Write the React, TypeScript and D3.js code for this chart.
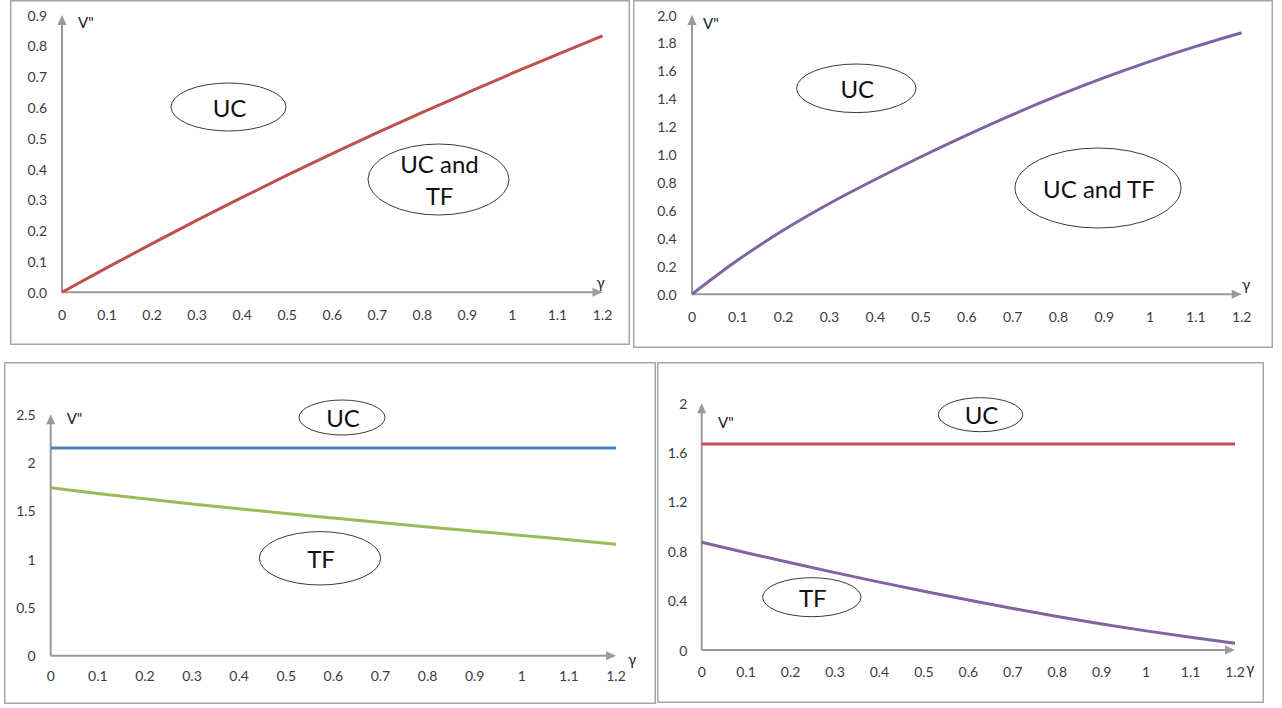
import React from 'react';
import * as d3 from 'd3';

const width = 1282;
const height = 708;

// shared x values (gamma) and their tick labels
const gamma = [0, 0.1, 0.2, 0.3, 0.4, 0.5, 0.6, 0.7, 0.8, 0.9, 1.0, 1.1, 1.2];
const gammaLabels = ['0', '0.1', '0.2', '0.3', '0.4', '0.5', '0.6', '0.7', '0.8', '0.9', '1', '1.1', '1.2'];

// top left
const topLeftTicks = [0, 0.1, 0.2, 0.3, 0.4, 0.5, 0.6, 0.7, 0.8, 0.9];
const topLeftRed = [0, 0.08, 0.158, 0.234, 0.308, 0.38, 0.45, 0.518, 0.584, 0.648, 0.711, 0.772, 0.832];

// top right
const topRightTicks = [0, 0.2, 0.4, 0.6, 0.8, 1.0, 1.2, 1.4, 1.6, 1.8, 2.0];
const topRightPurple = [0, 0.245, 0.46, 0.65, 0.822, 0.985, 1.14, 1.287, 1.424, 1.551, 1.668, 1.775, 1.873];

// bottom left
const bottomLeftTicks = [0, 0.5, 1, 1.5, 2, 2.5];
const bottomLeftBlue = [2.15, 2.15, 2.15, 2.15, 2.15, 2.15, 2.15, 2.15, 2.15, 2.15, 2.15, 2.15, 2.15];
const bottomLeftGreen = [1.74, 1.68, 1.625, 1.572, 1.521, 1.472, 1.425, 1.379, 1.334, 1.29, 1.246, 1.2, 1.155];

// bottom right
const bottomRightTicks = [0, 0.4, 0.8, 1.2, 1.6, 2];
const bottomRightRed = [1.67, 1.67, 1.67, 1.67, 1.67, 1.67, 1.67, 1.67, 1.67, 1.67, 1.67, 1.67, 1.67];
const bottomRightPurple = [0.873, 0.789, 0.707, 0.627, 0.55, 0.476, 0.405, 0.337, 0.272, 0.211, 0.155, 0.103, 0.054];

const red = '#C0504D';
const purple = '#8064A2';
const blue = '#4F81BD';
const green = '#9BBB59';
const axisGray = '#9a9a9a';
const font = "Lato, 'DejaVu Sans', sans-serif";

const panels = [
  {
    box: [10, 0, 620, 345],
    xRange: [62, 602.5],
    yDomain: [0, 0.9],
    yRange: [292.3, 15],
    yTicks: topLeftTicks,
    yFormat: d3.format('.1f'),
    yLabelX: 47,
    xLabelY: 314,
    vLabel: [78, 22],
    gLabel: [600.5, 282],
    series: [{ values: topLeftRed, color: red }],
    bubbles: [
      { cx: 228.5, cy: 107, rx: 57.5, ry: 24, lines: ['UC'], dy: 0 },
      { cx: 438.5, cy: 179.5, rx: 70.5, ry: 35.5, lines: ['UC and', 'TF'], dy: 32 },
    ],
  },
  {
    box: [633, 0, 640, 348],
    xRange: [692, 1241.7],
    yDomain: [0, 2.0],
    yRange: [294.3, 15],
    yTicks: topRightTicks,
    yFormat: d3.format('.1f'),
    yLabelX: 676.7,
    xLabelY: 316.7,
    vLabel: [703, 23],
    gLabel: [1246, 284],
    series: [{ values: topRightPurple, color: purple }],
    bubbles: [
      { cx: 856.3, cy: 88.3, rx: 59.7, ry: 24.3, lines: ['UC'], dy: 0 },
      { cx: 1098, cy: 188, rx: 83, ry: 40, lines: ['UC and TF'], dy: 0 },
    ],
  },
  {
    box: [4, 362, 652, 342],
    xRange: [50.7, 616],
    yDomain: [0, 2.5],
    yRange: [655.7, 414.3],
    yTicks: bottomLeftTicks,
    yFormat: (d: number) => String(d),
    yLabelX: 35.7,
    xLabelY: 675.7,
    vLabel: [66.7, 418],
    gLabel: [632, 659],
    series: [
      { values: bottomLeftBlue, color: blue },
      { values: bottomLeftGreen, color: green },
    ],
    bubbles: [
      { cx: 342, cy: 417.5, rx: 43, ry: 17.5, lines: ['UC'], dy: 0 },
      { cx: 320, cy: 558.3, rx: 60.7, ry: 26.7, lines: ['TF'], dy: 0 },
    ],
  },
  {
    box: [657, 362, 607, 341],
    xRange: [701.7, 1235],
    yDomain: [0, 2],
    yRange: [650, 403.3],
    yTicks: bottomRightTicks,
    yFormat: (d: number) => String(d),
    yLabelX: 687.3,
    xLabelY: 671,
    vLabel: [718, 421.7],
    gLabel: [1250, 668],
    series: [
      { values: bottomRightRed, color: red },
      { values: bottomRightPurple, color: purple },
    ],
    bubbles: [
      { cx: 980.5, cy: 414.7, rx: 42.2, ry: 17, lines: ['UC'], dy: 0 },
      { cx: 811.8, cy: 597.2, rx: 49.2, ry: 19.5, lines: ['TF'], dy: 0 },
    ],
  },
];

function Panel({ p }: { p: any }) {
  const x = d3.scaleLinear().domain([0, 1.2]).range(p.xRange);
  const y = d3.scaleLinear().domain(p.yDomain).range(p.yRange);
  const line = d3
    .line<number>()
    .x((_, i) => x(gamma[i]))
    .y((d) => y(d))
    .curve(d3.curveMonotoneX);

  const [bx, by, bw, bh] = p.box;
  const ox = x(0);
  const oy = y(0);
  const topY = y(p.yDomain[1]);
  const rightX = x(1.2);

  return (
    <g>
      <rect x={bx + 0.75} y={by + 0.75} width={bw - 1.5} height={bh - 1.5} fill="#fff" stroke="#a6a6a6" strokeWidth={1.5} />

      {/* axes with arrows */}
      <line x1={ox} y1={oy} x2={ox} y2={topY + 8} stroke={axisGray} strokeWidth={2} />
      <path d={`M${ox},${topY} L${ox - 4.5},${topY + 10} L${ox + 4.5},${topY + 10} Z`} fill={axisGray} />
      <line x1={ox} y1={oy} x2={rightX - 8} y2={oy} stroke={axisGray} strokeWidth={2} />
      <path d={`M${rightX},${oy} L${rightX - 10},${oy - 4.5} L${rightX - 10},${oy + 4.5} Z`} fill={axisGray} />

      {p.yTicks.map((t: number) => (
        <text key={'y' + t} x={p.yLabelX} y={y(t)} textAnchor="end" dominantBaseline="central" fontSize={14} fill="#3b3b44" fontFamily={font}>
          {p.yFormat(t)}
        </text>
      ))}
      {gamma.map((g, i) => (
        <text key={'x' + i} x={x(g)} y={p.xLabelY} textAnchor="middle" dominantBaseline="central" fontSize={14} fill="#3b3b44" fontFamily={font}>
          {gammaLabels[i]}
        </text>
      ))}

      <text x={p.vLabel[0]} y={p.vLabel[1]} dominantBaseline="central" fontSize={15} fill="#222" fontFamily={font}>
        V"
      </text>
      <text x={p.gLabel[0]} y={p.gLabel[1]} textAnchor="middle" dominantBaseline="central" fontSize={15} fill="#222" fontFamily={font}>
        γ
      </text>

      {p.series.map((s: any, i: number) => (
        <path key={i} d={line(s.values) || ''} fill="none" stroke={s.color} strokeWidth={3} />
      ))}

      {p.bubbles.map((b: any, i: number) => (
        <g key={'b' + i}>
          <ellipse cx={b.cx} cy={b.cy} rx={b.rx} ry={b.ry} fill="#fff" fillOpacity={0} stroke="#3a3a3a" strokeWidth={1} />
          {b.lines.map((l: string, j: number) => (
            <text
              key={j}
              x={b.cx + 1}
              y={b.cy + (j - (b.lines.length - 1) / 2) * b.dy}
              textAnchor="middle"
              dominantBaseline="central"
              fontSize={24}
              fill="#111"
              fontFamily={font}
            >
              {l}
            </text>
          ))}
        </g>
      ))}
    </g>
  );
}

export default function App() {
  return (
    <svg width={width} height={height} style={{ position: 'absolute', left: 0, top: 0, background: '#fff' }}>
      <rect width={width} height={height} fill="#fff" />
      {panels.map((p, i) => (
        <Panel key={i} p={p} />
      ))}
    </svg>
  );
}
